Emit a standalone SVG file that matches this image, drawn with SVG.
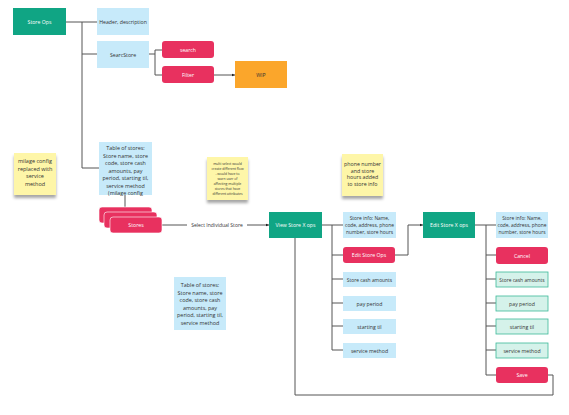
<svg xmlns="http://www.w3.org/2000/svg" width="569" height="415" viewBox="0 0 569 415">
<defs>
<style>
text{font-family:"Open Sans","Noto Sans","Liberation Sans",sans-serif;font-size:5.2px;text-anchor:middle;dominant-baseline:central}
.teal{fill:#10a584}
.pink{fill:#e8315f}
.blue{fill:#c7eafa}
.orange{fill:#fba62b}
.green{fill:#d5f2ea;stroke:#3cba9a;stroke-width:0.8}
.sticky{fill:#fef6a8;filter:url(#sh)}
.w{fill:#ffffff}
.d{fill:#333333}
.s{font-size:4.9px}
.c{fill:none;stroke:#555555;stroke-width:1}
</style>
<filter id="sh" x="-30%" y="-30%" width="160%" height="170%">
<feDropShadow dx="0" dy="3" stdDeviation="1.6" flood-color="#000" flood-opacity="0.35"/>
</filter>
<marker id="a" markerWidth="4" markerHeight="4" refX="3.5" refY="2" orient="auto" markerUnits="userSpaceOnUse">
<path d="M0,0.5 L3.5,2 L0,3.5 Z" fill="#222"/>
</marker>
</defs>
<rect width="569" height="415" fill="#ffffff"/>

<g id="connectors">
<path class="c" d="M66,22 H97 M82,22 V168 H99"/>
<path class="c" d="M82,54 H97"/>
<path class="c" d="M149,54 H155 M155,50 V75 M155,50 H162 M155,75 H162"/>
<path class="c" d="M214,75 H235" marker-end="url(#a)"/>
<path class="c" d="M125,195 V207"/>
<path class="c" d="M162,225 H187 M247,225 H269" marker-end="url(#a)"/>
<path class="c" d="M322,225 H343 M332,225 V350 M332,255 H343 M332,279 H343 M332,303 H343 M332,326 H343 M332,350 H343"/>
<path class="c" d="M395,255 H408 V225 H423" marker-end="url(#a)"/>
<path class="c" d="M475,225 H496 M486,225 V375 M486,255 H496 M486,279 H496 M486,303 H496 M486,326 H496 M486,350 H496 M486,375 H496"/>
<path class="c" d="M295,238 V395 H553 V375 H548"/>
<text x="217" y="225" class="d" style="font-size:5px">Select Individual Store</text>
</g>

<g id="store-ops"><rect class="teal" x="13" y="8" width="53" height="27"/><text x="39.5" y="21.5" class="w">Store Ops</text></g>
<g id="header"><rect class="blue" x="97" y="8" width="52" height="27"/><text x="123" y="21.5" class="d">Header, description</text></g>
<g id="searcstore"><rect class="blue" x="97" y="41" width="52" height="27"/><text x="123" y="54.5" class="d">SearcStore</text></g>
<g id="search"><rect class="pink" x="162" y="41" width="52" height="17" rx="3"/><text x="188" y="49.5" class="w">search</text></g>
<g id="filter"><rect class="pink" x="162" y="66" width="52" height="17" rx="3"/><text x="188" y="74.5" class="w">Filter</text></g>
<g id="wip"><rect class="orange" x="235" y="61" width="52" height="27"/><text x="261" y="74.5" class="d">WIP</text></g>

<g id="table-top"><rect class="blue" x="99" y="142" width="53" height="53"/>
<text class="d" style="font-size:5.4px"><tspan x="125.5" y="148">Table of stores:</tspan><tspan x="125.5" y="155.5">Store name, store</tspan><tspan x="125.5" y="163">code, store cash</tspan><tspan x="125.5" y="170.5">amounts, pay</tspan><tspan x="125.5" y="178">period, starting til,</tspan><tspan x="125.5" y="185.5">service method</tspan><tspan x="125.5" y="193">(milage config</tspan></text></g>

<g id="milage-note"><rect class="sticky" x="14" y="153" width="42" height="42"/>
<text class="d" style="font-size:5.5px"><tspan x="35" y="161">milage config</tspan><tspan x="35" y="168.5">replaced with</tspan><tspan x="35" y="176">service</tspan><tspan x="35" y="183.5">method</tspan></text></g>

<g id="stores"><rect class="pink" x="99" y="207" width="53" height="16" rx="3" stroke="#fff" stroke-width="0.6"/><rect class="pink" x="104" y="212" width="53" height="16" rx="3" stroke="#fff" stroke-width="0.6"/><rect class="pink" x="110" y="217" width="52" height="16" rx="3" stroke="#fff" stroke-width="0.6"/><text x="136" y="225" class="w">Stores</text></g>

<g id="multi-note"><rect class="sticky" x="207" y="157" width="41" height="43"/>
<text class="d" style="font-size:3.4px"><tspan x="227.5" y="163">multi select would</tspan><tspan x="227.5" y="168">create different flow</tspan><tspan x="227.5" y="173">- would have to</tspan><tspan x="227.5" y="178">warn user of</tspan><tspan x="227.5" y="183">affecting multiple</tspan><tspan x="227.5" y="188">stores that have</tspan><tspan x="227.5" y="193">different attributes</tspan></text></g>

<g id="phone-note"><rect class="sticky" x="342" y="154" width="41" height="42"/>
<text class="d" style="font-size:5.3px"><tspan x="362.5" y="164">phone number</tspan><tspan x="362.5" y="170.5">and store</tspan><tspan x="362.5" y="177">hours added</tspan><tspan x="362.5" y="183.5">to store info</tspan></text></g>

<g id="view-store"><rect class="teal" x="269" y="212" width="53" height="26"/><text x="295.5" y="225" class="w">View Store X ops</text></g>
<g id="view-info"><rect class="blue" x="343" y="212" width="53" height="26"/>
<text class="d s"><tspan x="369.5" y="218">Store info: Name,</tspan><tspan x="369.5" y="225">code, address, phone</tspan><tspan x="369.5" y="232">number, store hours</tspan></text></g>
<g id="edit-store-ops"><rect class="pink" x="343" y="247" width="52" height="16" rx="3"/><text x="369" y="255" class="w">Edit Store Ops</text></g>
<g id="view-cash"><rect class="blue" x="343" y="272" width="53" height="15"/><text x="369.5" y="279.5" class="d s">Store cash amounts</text></g>
<g id="view-pay"><rect class="blue" x="343" y="296" width="53" height="15"/><text x="369.5" y="303.5" class="d">pay period</text></g>
<g id="view-til"><rect class="blue" x="343" y="319" width="53" height="15"/><text x="369.5" y="326.5" class="d">starting til</text></g>
<g id="view-service"><rect class="blue" x="343" y="343" width="53" height="15"/><text x="369.5" y="350.5" class="d">service method</text></g>

<g id="edit-store"><rect class="teal" x="423" y="212" width="52" height="26"/><text x="449" y="225" class="w">Edit Store X ops</text></g>
<g id="edit-info"><rect class="blue" x="496" y="212" width="52" height="26"/>
<text class="d s"><tspan x="522" y="218">Store info: Name,</tspan><tspan x="522" y="225">code, address, phone</tspan><tspan x="522" y="232">number, store hours</tspan></text></g>
<g id="cancel"><rect class="pink" x="496" y="247" width="52" height="17" rx="3"/><text x="522" y="255.5" class="w">Cancel</text></g>
<g id="edit-cash"><rect class="green" x="496" y="272" width="52" height="15"/><text x="522" y="279.5" class="d s">Store cash amounts</text></g>
<g id="edit-pay"><rect class="green" x="496" y="296" width="52" height="15"/><text x="522" y="303.5" class="d">pay period</text></g>
<g id="edit-til"><rect class="green" x="496" y="319" width="52" height="15"/><text x="522" y="326.5" class="d">starting til</text></g>
<g id="edit-service"><rect class="green" x="496" y="343" width="52" height="15"/><text x="522" y="350.5" class="d">service method</text></g>
<g id="save"><rect class="pink" x="496" y="367" width="52" height="16" rx="3"/><text x="522" y="375" class="w">Save</text></g>

<g id="table-bottom"><rect class="blue" x="174" y="277" width="52" height="53"/>
<text class="d" style="font-size:5.4px"><tspan x="200" y="285">Table of stores:</tspan><tspan x="200" y="292.5">Store name, store</tspan><tspan x="200" y="300">code, store cash</tspan><tspan x="200" y="307.5">amounts, pay</tspan><tspan x="200" y="315">period, starting til,</tspan><tspan x="200" y="322.5">service method</tspan></text></g>
</svg>
